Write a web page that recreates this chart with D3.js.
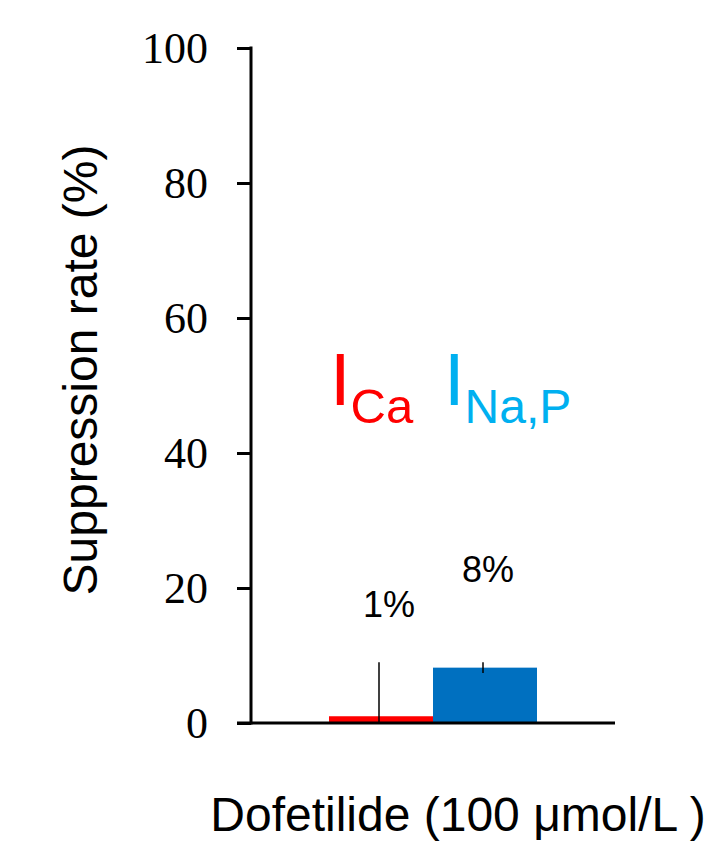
<!DOCTYPE html>
<html>
<head>
<meta charset="utf-8">
<script src="https://cdn.jsdelivr.net/npm/d3@7"></script>
<style>
  body { margin: 0; background: #fff; }
  svg { display: block; }
</style>
</head>
<body>
<svg width="726" height="850"></svg>
<script>
// data
var series = ["ICa", "INaP"];
var values = [1, 8.2];
var errors = [8, 0.8];
var labels = ["1%", "8%"];
var colors = ["#ff0000", "#0070c0"];
var yTicks = [0, 20, 40, 60, 80, 100];

var svg = d3.select("svg");

var x = d3.scaleBand()
    .domain(series)
    .range([329, 537])
    .padding(0);

var y = d3.scaleLinear()
    .domain([0, 100])
    .range([723, 48]);

// bars
svg.selectAll(".bar")
    .data(series)
    .enter().append("rect")
    .attr("class", "bar")
    .attr("x", function(d) { return x(d); })
    .attr("width", x.bandwidth())
    .attr("y", function(d, i) { return y(values[i]); })
    .attr("height", function(d, i) { return y(0) - y(values[i]); })
    .style("fill", function(d, i) { return colors[i]; });

// error bars
svg.selectAll(".err")
    .data(series)
    .enter().append("line")
    .attr("class", "err")
    .attr("x1", function(d) { return x(d) + x.bandwidth() / 2 - 2; })
    .attr("x2", function(d) { return x(d) + x.bandwidth() / 2 - 2; })
    .attr("y1", function(d, i) { return y(Math.max(0, values[i] - errors[i])); })
    .attr("y2", function(d, i) { return y(values[i] + errors[i]); })
    .style("stroke", "#000")
    .style("stroke-width", 1.5);

// axes
var yAxis = d3.axisLeft(y)
    .tickValues(yTicks)
    .tickSize(14)
    .tickPadding(29);

var gy = svg.append("g")
    .attr("transform", "translate(251,0)")
    .call(yAxis);

gy.select(".domain").remove();
gy.selectAll(".tick line").style("stroke", "#000").style("stroke-width", 3);
gy.selectAll(".tick text")
    .style("font-family", "'Liberation Serif', 'Times New Roman', serif")
    .style("font-size", "44px")
    .style("fill", "#000");

svg.append("line")
    .attr("x1", 251).attr("x2", 251)
    .attr("y1", y(100) - 1.5).attr("y2", y(0) + 1.5)
    .style("stroke", "#000").style("stroke-width", 3);

svg.append("line")
    .attr("x1", 237).attr("x2", 615)
    .attr("y1", y(0)).attr("y2", y(0))
    .style("stroke", "#000").style("stroke-width", 3);

var sans = "'Liberation Sans', Arial, sans-serif";

// value labels
svg.selectAll(".val")
    .data(series)
    .enter().append("text")
    .attr("class", "val")
    .attr("x", function(d, i) { return x(d) + x.bandwidth() / 2 + (i == 0 ? 8 : 3); })
    .attr("y", function(d, i) { return i == 0 ? 617 : 582; })
    .attr("text-anchor", "middle")
    .style("font-family", sans)
    .style("font-size", "36px")
    .text(function(d, i) { return labels[i]; });

// current labels
var cur = svg.append("text")
    .attr("x", 330)
    .attr("y", 405)
    .style("font-family", sans);
cur.append("tspan").style("font-size", "74px").style("fill", "#ff0000").text("I");
cur.append("tspan").attr("dy", 18).style("font-size", "49px").style("fill", "#ff0000").text("Ca");

var cur2 = svg.append("text")
    .attr("x", 444)
    .attr("y", 405)
    .style("font-family", sans);
cur2.append("tspan").style("font-size", "74px").style("fill", "#00b0f0").text("I");
cur2.append("tspan").attr("dy", 18).style("font-size", "48px").style("fill", "#00b0f0").text("Na,P");

// axis titles
svg.append("text")
    .attr("transform", "translate(97,370) rotate(-90)")
    .attr("text-anchor", "middle")
    .style("font-family", sans)
    .style("font-size", "48px")
    .text("Suppression rate (%)");

svg.append("text")
    .attr("x", 458)
    .attr("y", 831)
    .attr("text-anchor", "middle")
    .style("font-family", sans)
    .style("font-size", "48px")
    .text("Dofetilide (100 μmol/L )");
</script>
</body>
</html>
